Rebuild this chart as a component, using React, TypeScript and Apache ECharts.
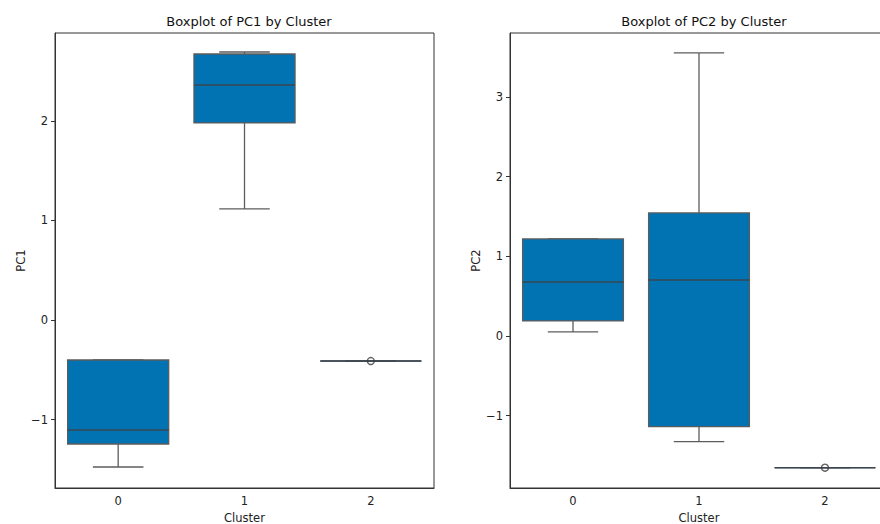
import React, { useEffect, useRef } from "react";
import * as echarts from "echarts";

const clusters = ["0", "1", "2"];
// [min, Q1, median, Q3, max] per cluster
const pc1Stats = [
  [-1.477, -1.246, -1.106, -0.402, -0.402],
  [1.116, 1.98, 2.362, 2.673, 2.693],
  [-0.412, -0.412, -0.412, -0.412, -0.412],
];
const pc1Outliers = [[2, -0.412]];
const pc2Stats = [
  [0.05, 0.188, 0.678, 1.217, 1.217],
  [-1.326, -1.138, 0.703, 1.543, 3.55],
  [-1.652, -1.652, -1.652, -1.652, -1.652],
];
const pc2Outliers = [[2, -1.652]];
const pc1Ticks = [-1, 0, 1, 2];
const pc2Ticks = [-1, 0, 1, 2, 3];

const BOX_COLOR = "#0173b2";
const EDGE = "#5c5c5c";
const MEDIAN = "#3a4650";
const FONT = "DejaVu Sans";

function renderBox(params: any, api: any) {
  const x = api.value(0);
  const mn = api.value(1);
  const q1 = api.value(2);
  const md = api.value(3);
  const q3 = api.value(4);
  const mx = api.value(5);
  const band = api.size([1, 0])[0];
  const bw = band * 0.8;
  const cw = band * 0.4;
  const pMin = api.coord([x, mn]);
  const pQ1 = api.coord([x, q1]);
  const pMd = api.coord([x, md]);
  const pQ3 = api.coord([x, q3]);
  const pMax = api.coord([x, mx]);
  const cx = pMin[0];
  const lw = 1.3;
  const ls = { stroke: EDGE, lineWidth: lw };
  return {
    type: "group",
    children: [
      { type: "line", shape: { x1: cx, y1: pQ1[1], x2: cx, y2: pMin[1] }, style: ls },
      { type: "line", shape: { x1: cx, y1: pQ3[1], x2: cx, y2: pMax[1] }, style: ls },
      { type: "line", shape: { x1: cx - cw / 2, y1: pMin[1], x2: cx + cw / 2, y2: pMin[1] }, style: ls },
      { type: "line", shape: { x1: cx - cw / 2, y1: pMax[1], x2: cx + cw / 2, y2: pMax[1] }, style: ls },
      {
        type: "rect",
        shape: { x: cx - bw / 2, y: pQ3[1], width: bw, height: Math.max(pQ1[1] - pQ3[1], 0) },
        style: { fill: BOX_COLOR, stroke: EDGE, lineWidth: lw },
      },
      { type: "line", shape: { x1: cx - bw / 2, y1: pMd[1], x2: cx + bw / 2, y2: pMd[1] }, style: { stroke: MEDIAN, lineWidth: 1.5 } },
    ],
  };
}

function toData(stats: number[][]) {
  return stats.map((s, i) => [i, ...s]);
}

export default function App() {
  const ref = useRef<HTMLDivElement>(null);
  useEffect(() => {
    if (!ref.current) return;
    const chart = echarts.init(ref.current, null, { renderer: "svg" });
    const axisText = { color: "#222", fontFamily: FONT, fontSize: 11.5 };
    const mkX = (gi: number) => ({
      type: "category",
      gridIndex: gi,
      data: clusters,
      boundaryGap: true,
      name: "Cluster",
      nameLocation: "middle",
      nameGap: 23,
      nameTextStyle: { ...axisText, fontSize: 11.5 },
      axisLine: { onZero: false, lineStyle: { color: "#333", width: 1 } },
      axisTick: { alignWithLabel: true, length: 4, lineStyle: { color: "#333" } },
      axisLabel: { ...axisText, margin: 7 },
      splitLine: { show: false },
    });
    const mkY = (gi: number, min: number, max: number, ticks: number[], name: string) => ({
      type: "value",
      gridIndex: gi,
      min,
      max,
      name,
      nameLocation: "middle",
      nameGap: 25,
      nameRotate: 90,
      nameTextStyle: { ...axisText, fontSize: 11.5 },
      axisLine: { show: true, onZero: false, lineStyle: { color: "#333", width: 1 } },
      axisTick: { show: true, length: 4, customValues: ticks, lineStyle: { color: "#333" } },
      axisLabel: {
        ...axisText,
        margin: 7,
        customValues: ticks,
        formatter: (v: number) => (v < 0 ? "\u2212" + Math.abs(v) : String(v)),
      },
      splitLine: { show: false },
    });
    chart.setOption({
      animation: false,
      backgroundColor: "#fff",
      title: [
        {
          text: "Boxplot of PC1 by Cluster",
          left: 244,
          top: 10,
          textAlign: "center",
          textStyle: { fontFamily: FONT, fontSize: 13, fontWeight: "normal", color: "#111" },
        },
        {
          text: "Boxplot of PC2 by Cluster",
          left: 699,
          top: 10,
          textAlign: "center",
          textStyle: { fontFamily: FONT, fontSize: 13, fontWeight: "normal", color: "#111" },
        },
      ],
      grid: [
        { left: 55, top: 33, width: 379, height: 455, show: true, borderColor: "#333", borderWidth: 1, backgroundColor: "transparent", outerBoundsMode: "none", containLabel: false },
        { left: 510, top: 33, width: 378, height: 455, show: true, borderColor: "#333", borderWidth: 1, backgroundColor: "transparent", outerBoundsMode: "none", containLabel: false },
      ],
      xAxis: [mkX(0), mkX(1)],
      yAxis: [mkY(0, -1.688, 2.884, pc1Ticks, "PC1"), mkY(1, -1.907, 3.8, pc2Ticks, "PC2")],
      series: [
        { type: "custom", xAxisIndex: 0, yAxisIndex: 0, renderItem: renderBox, data: toData(pc1Stats), encode: { x: 0, y: [1, 2, 3, 4, 5] } },
        { type: "custom", xAxisIndex: 1, yAxisIndex: 1, renderItem: renderBox, data: toData(pc2Stats), encode: { x: 0, y: [1, 2, 3, 4, 5] } },
        {
          type: "scatter", xAxisIndex: 0, yAxisIndex: 0, data: pc1Outliers, symbol: "circle", symbolSize: 7,
          itemStyle: { color: "rgba(0,0,0,0)", borderColor: "#3a3a3a", borderWidth: 1.4 }, z: 5,
        },
        {
          type: "scatter", xAxisIndex: 1, yAxisIndex: 1, data: pc2Outliers, symbol: "circle", symbolSize: 7,
          itemStyle: { color: "rgba(0,0,0,0)", borderColor: "#3a3a3a", borderWidth: 1.4 }, z: 5,
        },
      ],
    });
    return () => chart.dispose();
  }, []);
  return <div ref={ref} style={{ position: "absolute", left: 0, top: 0, width: 880, height: 524 }} />;
}
